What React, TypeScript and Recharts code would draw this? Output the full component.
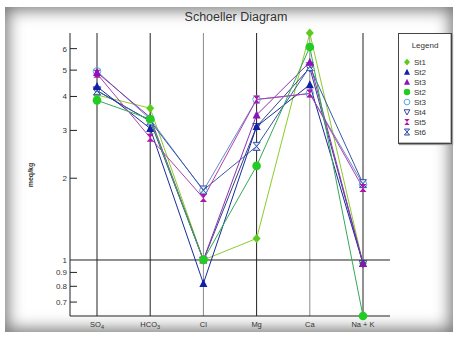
import React from 'react'
import { LineChart, Line, XAxis, YAxis, ReferenceLine } from 'recharts'

const categories = ['SO4', 'HCO3', 'Cl', 'Mg', 'Ca', 'Na + K']
const st1 = [4.05, 3.62, 1.0, 1.2, 6.85, 0.97]
const st2 = [4.35, 3.05, 0.82, 3.1, 4.42, 0.97]
const st3 = [4.9, 3.35, 1.0, 3.42, 5.35, 0.97]
const st2b = [3.87, 3.3, 1.0, 2.22, 6.08, 0.622]
const st3b = [4.95, 3.3, 1.8, 3.9, 4.1, 1.9]
const st4 = [4.2, 3.25, 1.0, 3.1, 5.1, 0.97]
const st5 = [4.85, 2.82, 1.69, 3.9, 4.1, 1.84]
const st6 = [4.2, 3.25, 1.81, 2.62, 5.15, 1.91]
const yTicks = [0.7, 0.8, 0.9, 1, 2, 3, 4, 5, 6]

const FONT = '"Liberation Sans", Arial, sans-serif'

type Kind = 'diamond' | 'tri' | 'circle' | 'ocircle' | 'otriDown' | 'hour' | 'ohour'

const SERIES: { key: string; name: string; values: number[]; color: string; line: string; kind: Kind }[] = [
  { key: 's1', name: 'St1', values: st1, color: '#5ccc1c', line: '#8ccc2a', kind: 'diamond' },
  { key: 's2', name: 'St2', values: st2, color: '#1020a8', line: '#1a2a9a', kind: 'tri' },
  { key: 's3', name: 'St3', values: st3, color: '#8a14b4', line: '#9030b0', kind: 'tri' },
  { key: 's2b', name: 'St2', values: st2b, color: '#22cc22', line: '#33aa55', kind: 'circle' },
  { key: 's3b', name: 'St3', values: st3b, color: '#55aadd', line: '#6a8ac8', kind: 'ocircle' },
  { key: 's4', name: 'St4', values: st4, color: '#3a4490', line: '#334488', kind: 'otriDown' },
  { key: 's5', name: 'St5', values: st5, color: '#b014a8', line: '#b040b0', kind: 'hour' },
  { key: 's6', name: 'St6', values: st6, color: '#3050b0', line: '#3858a8', kind: 'ohour' },
]

// paint order (legend order stays as above)
const DRAW_ORDER = ['s1', 's4', 's3b', 's6', 's2', 's5', 's3', 's2b']

const data = categories.map((c, i) => {
  const row: Record<string, number | string> = { cat: c }
  SERIES.forEach((s) => { row[s.key] = s.values[i] })
  return row
})

const lineColors: Record<string, string> = {
  SO4: '#222', HCO3: '#222', Cl: '#8a8a8a', Mg: '#222', Ca: '#8a8a8a', 'Na + K': '#222',
}

function Marker({ cx, cy, kind, color, s = 1 }: { cx: number; cy: number; kind: Kind; color: string; s?: number }) {
  if (cx == null || cy == null) return null
  switch (kind) {
    case 'diamond':
      return <path d={`M${cx},${cy - 4.5 * s}L${cx + 4 * s},${cy}L${cx},${cy + 4.5 * s}L${cx - 4 * s},${cy}Z`} fill={color} />
    case 'tri':
      return <path d={`M${cx},${cy - 4.5 * s}L${cx + 4 * s},${cy + 3.5 * s}L${cx - 4 * s},${cy + 3.5 * s}Z`} fill={color} />
    case 'circle':
      return <circle cx={cx} cy={cy} r={4.3 * s} fill={color} />
    case 'ocircle':
      return <circle cx={cx} cy={cy} r={3.8 * s} fill="none" stroke={color} strokeWidth={1} />
    case 'otriDown':
      return <path d={`M${cx - 3.8 * s},${cy - 3 * s}L${cx + 3.8 * s},${cy - 3 * s}L${cx},${cy + 4 * s}Z`} fill="none" stroke={color} strokeWidth={1} />
    case 'hour':
      return <path d={`M${cx - 3.5 * s},${cy - 4 * s}L${cx + 3.5 * s},${cy - 4 * s}L${cx},${cy}L${cx + 3.5 * s},${cy + 4 * s}L${cx - 3.5 * s},${cy + 4 * s}L${cx},${cy}Z`} fill={color} />
    case 'ohour':
      return <path d={`M${cx - 3.5 * s},${cy - 4 * s}L${cx + 3.5 * s},${cy - 4 * s}L${cx},${cy}L${cx + 3.5 * s},${cy + 4 * s}L${cx - 3.5 * s},${cy + 4 * s}L${cx},${cy}Z`} fill="#dde4f4" stroke={color} strokeWidth={1} />
  }
  return null
}

function XTick({ x, y, payload }: any) {
  const v: string = payload.value
  let main = v
  let sub = ''
  if (v === 'SO4') { main = 'SO'; sub = '4' }
  if (v === 'HCO3') { main = 'HCO'; sub = '3' }
  return (
    <text x={x} y={y + 9} textAnchor="middle" fontSize={7.5} fill="#333" fontFamily={FONT}>
      {main}
      {sub && <tspan fontSize={5.5} dy={2}>{sub}</tspan>}
    </text>
  )
}

function YTick({ y, payload }: any) {
  return (
    <g>
      <text x={67} y={y} dy={3} textAnchor="end" fontSize={8} fill="#333" fontFamily={FONT}>
        {payload.value}
      </text>
      {payload.value !== 1 && <line x1={70} x2={77} y1={y} y2={y} stroke="#222" strokeWidth={1} />}
    </g>
  )
}

export default function App() {
  const drawn = DRAW_ORDER.map((k) => SERIES.find((s) => s.key === k)!)
  return (
    <div style={{ position: 'absolute', left: 0, top: 0, width: 458, height: 338, background: '#fff', overflow: 'hidden' }}>
      <div
        style={{
          position: 'absolute', left: 5, top: 7, width: 448, height: 325,
          boxShadow: 'inset 0 0 16px 3px rgba(0,0,0,0.55)',
        }}
      />
      <div
        style={{
          position: 'absolute', left: 0, top: 10, width: 472, textAlign: 'center',
          fontFamily: FONT, fontSize: 12.5, color: '#333',
        }}
      >
        Schoeller Diagram
      </div>
      <div style={{ position: 'absolute', left: 0, top: 0 }}>
        <LineChart width={458} height={338} data={data} margin={{ top: 33, right: 68, bottom: 0, left: 0 }}>
          <XAxis
            dataKey="cat"
            padding={{ left: 27, right: 27 }}
            height={22}
            axisLine={{ stroke: '#222' }}
            tickLine={false}
            tickSize={0}
            tick={<XTick />}
            interval={0}
          />
          <XAxis
            xAxisId="top"
            dataKey="cat"
            orientation="top"
            padding={{ left: 27, right: 27 }}
            height={0}
            axisLine={{ stroke: '#222' }}
            tickLine={false}
            tick={false}
          />
          <YAxis
            scale="log"
            domain={[0.622, 6.85]}
            ticks={yTicks}
            width={70}
            axisLine={{ stroke: '#222' }}
            tickLine={false}
            tickSize={0}
            tick={<YTick />}
            interval={0}
            label={{
              content: () => (
                <text x={33} y={175} transform="rotate(-90 33 175)" textAnchor="middle" fontSize={7} fontWeight="bold" fill="#333" fontFamily={FONT}>
                  meq/kg
                </text>
              ),
            }}
          />
          <YAxis
            yAxisId="right"
            orientation="right"
            scale="log"
            domain={[0.622, 6.85]}
            width={0}
            axisLine={{ stroke: '#222' }}
            tickLine={false}
            tick={false}
          />
          {categories.map((c) => (
            <ReferenceLine key={c} x={c} stroke={lineColors[c]} strokeWidth={1} />
          ))}
          <ReferenceLine y={1} stroke="#222" strokeWidth={1} />
          {drawn.map((s) => (
            <Line
              key={s.key}
              dataKey={s.key}
              name={s.name}
              type="linear"
              stroke={s.line}
              strokeWidth={1}
              isAnimationActive={false}
              dot={(p: any) => <Marker key={`${s.key}-${p.index}`} cx={p.cx} cy={p.cy} kind={s.kind} color={s.color} />}
              activeDot={false}
            />
          ))}
        </LineChart>
      </div>
      <div
        style={{
          position: 'absolute', left: 398, top: 33, width: 52, height: 109,
          border: '1px solid #444', boxShadow: 'inset -1px -1px 0 #bbb, 1px 1px 1px #999',
          background: '#fff', fontFamily: FONT, fontSize: 8, color: '#333',
        }}
      >
        <div style={{ position: 'absolute', left: 0, top: 7, width: 52, textAlign: 'center' }}>Legend</div>
        <svg width={52} height={109} style={{ position: 'absolute', left: 0, top: 0 }}>
          {SERIES.map((s, i) => (
            <g key={s.key}>
              <Marker cx={8} cy={28 + i * 10} kind={s.kind} color={s.color} s={0.75} />
              <text x={15} y={31 + i * 10} fontSize={8} fill="#333" fontFamily={FONT}>{s.name}</text>
            </g>
          ))}
        </svg>
      </div>
    </div>
  )
}
